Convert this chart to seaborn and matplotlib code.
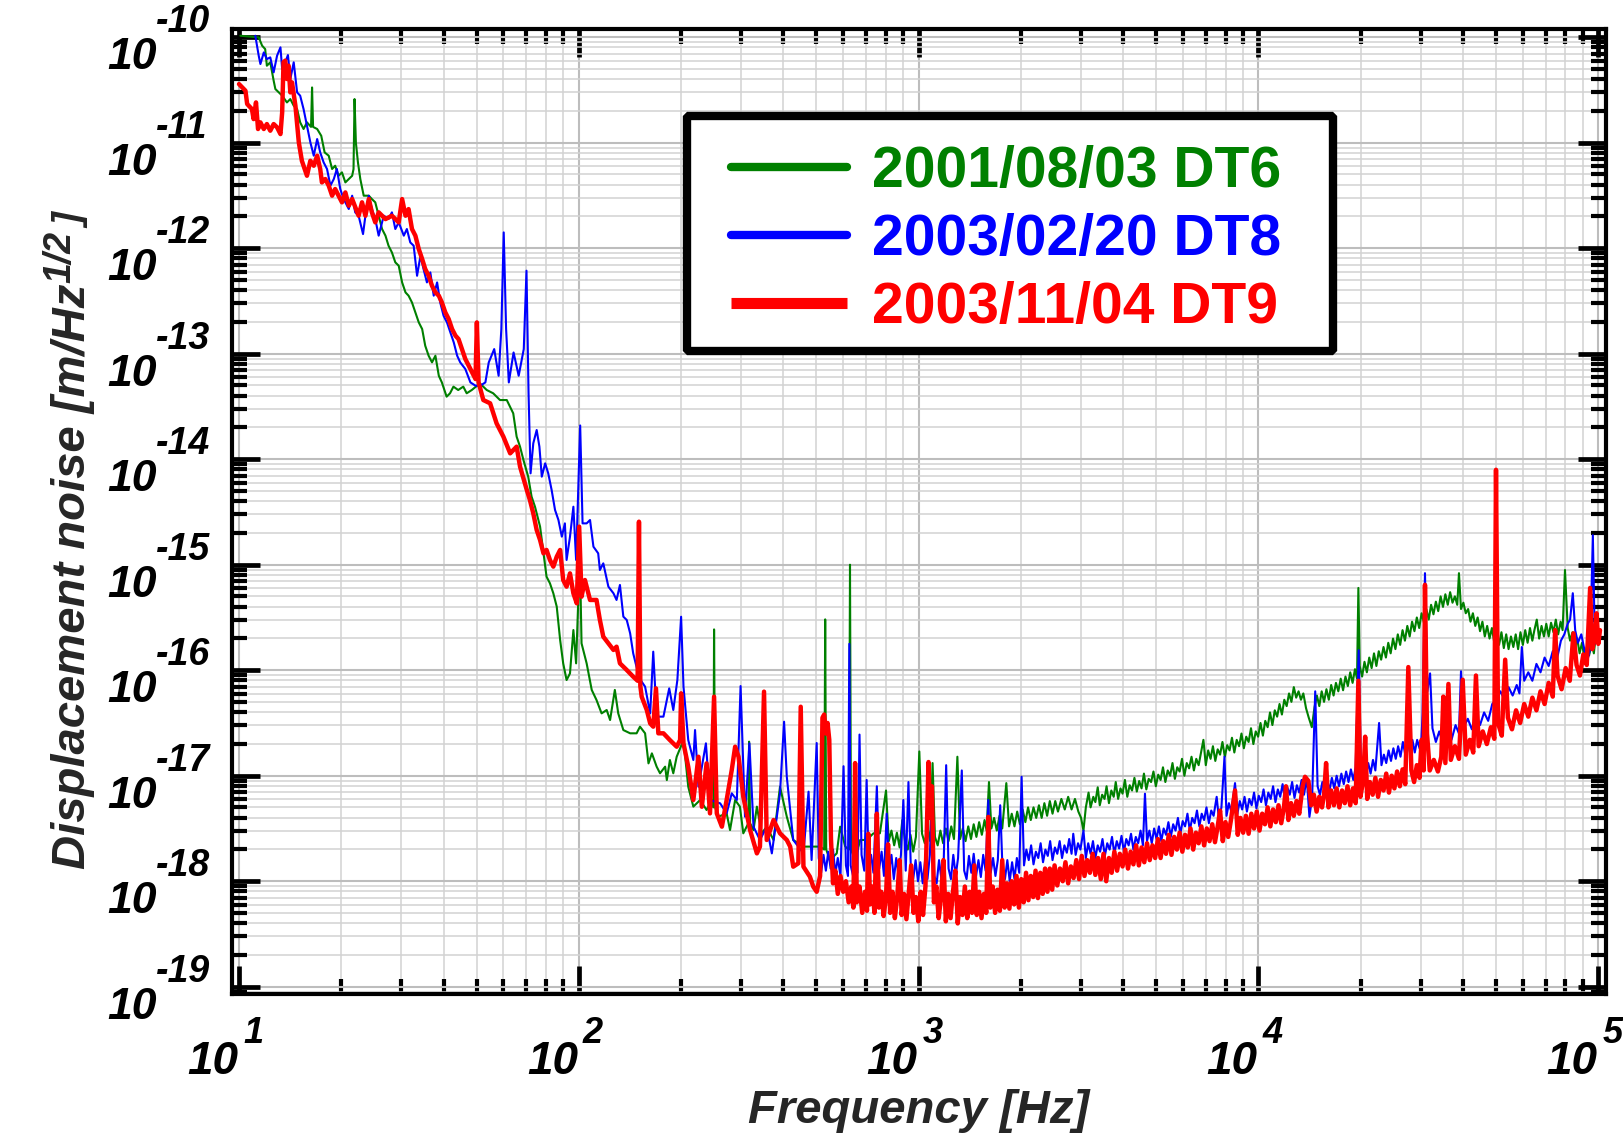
import numpy as np
import pandas as pd
import seaborn as sns
import matplotlib
matplotlib.use("Agg")
import matplotlib.pyplot as plt
from matplotlib.transforms import offset_copy, blended_transform_factory
from matplotlib.lines import Line2D
from matplotlib.patches import Rectangle
from matplotlib.ticker import LogLocator, NullFormatter

# ---------------- data: (log10 frequency [Hz], log10 noise [m/Hz^1/2]) ----------------
dt6_points = [
    (1.004, -9.986), (1.058, -10.001), (1.068, -10.080), (1.077, -10.112), (1.082, -10.270), (1.092, -10.238),
    (1.102, -10.412), (1.107, -10.491), (1.117, -10.523), (1.127, -10.554), (1.141, -10.618), (1.151, -10.586),
    (1.161, -10.649), (1.171, -10.681), (1.180, -10.807), (1.190, -10.870), (1.200, -10.807), (1.212, -10.850),
    (1.215, -10.476), (1.218, -10.850), (1.230, -10.870), (1.242, -10.934), (1.252, -11.092), (1.264, -11.123),
    (1.274, -11.249), (1.283, -11.218), (1.293, -11.313), (1.303, -11.281), (1.313, -11.376), (1.323, -11.344),
    (1.333, -11.313), (1.337, -11.250), (1.340, -10.586), (1.344, -11.000), (1.350, -11.186), (1.357, -11.344),
    (1.367, -11.502), (1.382, -11.502), (1.391, -11.534), (1.401, -11.565), (1.411, -11.692), (1.421, -11.818),
    (1.431, -11.881), (1.440, -11.976), (1.450, -12.040), (1.460, -12.134), (1.470, -12.166), (1.480, -12.324),
    (1.490, -12.419), (1.499, -12.450), (1.509, -12.514), (1.519, -12.608), (1.529, -12.703), (1.539, -12.766),
    (1.548, -12.924), (1.558, -13.019), (1.568, -13.082), (1.578, -13.019), (1.588, -13.209), (1.597, -13.272),
    (1.611, -13.407), (1.621, -13.375), (1.631, -13.312), (1.645, -13.344), (1.660, -13.312), (1.670, -13.375),
    (1.685, -13.344), (1.709, -13.281), (1.729, -13.344), (1.748, -13.375), (1.768, -13.439), (1.788, -13.439),
    (1.807, -13.565), (1.817, -13.786), (1.827, -13.881), (1.837, -14.007), (1.851, -14.165), (1.861, -14.355),
    (1.871, -14.450), (1.886, -14.639), (1.896, -14.892), (1.905, -15.113), (1.915, -15.176), (1.925, -15.271),
    (1.935, -15.397), (1.945, -15.713), (1.954, -15.935), (1.964, -16.093), (1.974, -16.030), (1.984, -15.619),
    (1.992, -15.935), (2.003, -14.900), (2.008, -15.745), (2.023, -15.935), (2.038, -16.187), (2.052, -16.282),
    (2.067, -16.409), (2.082, -16.377), (2.092, -16.472), (2.106, -16.187), (2.116, -16.409), (2.131, -16.567),
    (2.151, -16.598), (2.170, -16.598), (2.180, -16.535), (2.195, -16.598), (2.205, -16.883), (2.215, -16.788),
    (2.229, -16.914), (2.239, -16.977), (2.254, -16.914), (2.259, -17.041), (2.268, -16.851), (2.278, -16.977),
    (2.288, -16.820), (2.308, -16.662), (2.322, -17.104), (2.337, -17.293), (2.357, -17.230), (2.376, -17.325),
    (2.391, -17.230), (2.396, -17.300), (2.398, -15.613), (2.401, -17.300), (2.411, -17.388), (2.435, -17.357),
    (2.445, -17.515), (2.460, -17.230), (2.474, -17.293), (2.484, -17.546), (2.499, -17.450), (2.501, -16.677),
    (2.504, -17.450), (2.514, -17.515), (2.524, -17.293), (2.538, -17.546), (2.553, -17.483), (2.573, -17.609),
    (2.592, -17.104), (2.612, -17.388), (2.631, -17.609), (2.661, -17.672), (2.690, -17.672), (2.710, -17.672),
    (2.722, -17.700), (2.725, -15.518), (2.728, -17.700), (2.739, -17.799), (2.759, -17.736), (2.769, -17.483),
    (2.784, -17.672), (2.795, -17.700), (2.798, -15.000), (2.801, -17.700), (2.813, -17.799), (2.828, -17.609),
    (2.847, -17.609), (2.867, -17.546), (2.886, -17.546), (2.904, -17.140), (2.912, -17.620), (2.920, -17.520),
    (2.928, -17.660), (2.936, -17.540), (2.944, -17.680), (2.952, -17.420), (2.960, -17.620), (2.968, -17.700),
    (2.976, -17.560), (2.984, -17.720), (2.992, -17.580), (3.002, -16.770), (3.010, -17.550), (3.018, -17.640),
    (3.026, -17.500), (3.034, -17.620), (3.041, -16.880), (3.048, -17.580), (3.056, -17.660), (3.064, -17.520),
    (3.072, -17.640), (3.080, -17.500), (3.088, -17.620), (3.096, -17.480), (3.104, -17.600), (3.114, -16.820),
    (3.122, -17.600), (3.130, -17.500), (3.138, -17.620), (3.146, -17.480), (3.154, -17.600), (3.162, -17.460),
    (3.170, -17.580), (3.178, -17.440), (3.186, -17.560), (3.194, -17.420), (3.200, -17.520), (3.207, -17.060),
    (3.214, -17.500), (3.222, -17.400), (3.230, -17.520), (3.238, -17.380), (3.246, -17.500), (3.258, -17.070),
    (3.266, -17.480), (3.274, -17.360), (3.282, -17.480), (3.290, -17.340), (3.298, -17.460), (3.306, -17.320),
    (3.314, -17.440), (3.322, -17.300), (3.330, -17.420), (3.338, -17.300), (3.346, -17.400), (3.354, -17.280),
    (3.362, -17.400), (3.370, -17.260), (3.378, -17.380), (3.386, -17.240), (3.394, -17.360), (3.402, -17.240),
    (3.410, -17.340), (3.420, -17.220), (3.430, -17.320), (3.440, -17.200), (3.450, -17.320), (3.460, -17.220),
    (3.470, -17.340), (3.478, -17.400), (3.485, -17.520), (3.492, -17.300),
    (3.500, -17.16), (3.506, -17.30), (3.514, -17.20), (3.520, -17.25), (3.527, -17.11), (3.533, -17.28),
    (3.540, -17.18), (3.547, -17.22), (3.553, -17.10), (3.560, -17.26), (3.567, -17.14), (3.574, -17.20),
    (3.580, -17.06), (3.587, -17.22), (3.594, -17.12), (3.600, -17.17), (3.607, -17.04), (3.614, -17.20),
    (3.621, -17.09), (3.628, -17.14), (3.635, -17.02), (3.642, -17.15), (3.649, -17.05), (3.656, -17.12),
    (3.663, -16.98), (3.670, -17.13), (3.677, -17.03), (3.684, -17.06), (3.691, -16.96), (3.698, -17.10),
    (3.705, -16.99), (3.712, -17.04), (3.719, -16.92), (3.726, -17.06), (3.733, -16.95), (3.740, -17.00),
    (3.747, -16.88), (3.754, -17.03), (3.761, -16.92), (3.768, -16.96), (3.775, -16.84), (3.782, -17.00),
    (3.789, -16.88), (3.796, -16.93), (3.803, -16.82), (3.810, -16.95), (3.817, -16.84), (3.824, -16.90),
    (3.831, -16.78), (3.838, -16.66), (3.845, -16.90), (3.852, -16.76), (3.859, -16.84), (3.866, -16.72),
    (3.873, -16.86), (3.880, -16.75), (3.887, -16.80), (3.894, -16.68), (3.901, -16.82), (3.908, -16.71),
    (3.915, -16.76), (3.922, -16.64), (3.929, -16.78), (3.936, -16.66), (3.943, -16.72), (3.950, -16.60),
    (3.957, -16.74), (3.964, -16.63), (3.971, -16.68), (3.978, -16.55), (3.985, -16.70), (3.992, -16.58),
    (3.999, -16.63), (4.006, -16.50), (4.013, -16.62), (4.020, -16.48), (4.027, -16.54), (4.034, -16.40),
    (4.041, -16.52), (4.048, -16.38), (4.055, -16.44), (4.062, -16.32), (4.069, -16.42), (4.076, -16.28),
    (4.083, -16.34), (4.090, -16.22), (4.097, -16.30), (4.104, -16.16), (4.111, -16.26), (4.118, -16.20),
    (4.125, -16.28), (4.132, -16.22), (4.140, -16.36), (4.148, -16.45), (4.157, -16.54), (4.165, -16.35),
    (4.172, -16.24), (4.179, -16.34), (4.186, -16.20), (4.193, -16.30), (4.200, -16.18), (4.207, -16.28),
    (4.214, -16.14), (4.221, -16.24), (4.228, -16.12), (4.235, -16.20), (4.242, -16.08), (4.249, -16.19),
    (4.256, -16.06), (4.263, -16.15), (4.270, -16.02), (4.277, -16.12), (4.284, -15.99), (4.290, -16.08),
    (4.294, -15.22), (4.298, -15.96), (4.305, -16.06), (4.312, -15.92), (4.319, -16.02), (4.326, -15.88),
    (4.333, -15.98), (4.340, -15.84), (4.347, -15.96), (4.354, -15.82), (4.361, -15.90), (4.368, -15.78),
    (4.375, -15.88), (4.382, -15.74), (4.389, -15.84), (4.396, -15.70), (4.403, -15.80), (4.410, -15.66),
    (4.417, -15.76), (4.424, -15.62), (4.431, -15.72), (4.438, -15.58), (4.445, -15.68), (4.452, -15.54),
    (4.459, -15.63), (4.466, -15.50), (4.473, -15.60), (4.480, -15.46), (4.487, -15.55), (4.494, -15.42),
    (4.501, -15.52), (4.508, -15.38), (4.515, -15.47), (4.522, -15.35), (4.529, -15.44), (4.536, -15.30),
    (4.543, -15.40), (4.550, -15.28), (4.557, -15.38), (4.564, -15.26), (4.571, -15.36), (4.578, -15.30),
    (4.585, -15.38), (4.590, -15.08), (4.596, -15.42), (4.603, -15.36), (4.610, -15.46), (4.617, -15.42),
    (4.624, -15.54), (4.631, -15.46), (4.638, -15.58), (4.645, -15.50), (4.652, -15.63), (4.659, -15.54),
    (4.666, -15.68), (4.673, -15.58), (4.680, -15.70), (4.687, -15.60), (4.694, -15.74), (4.701, -15.62),
    (4.708, -15.76), (4.715, -15.64), (4.722, -15.79), (4.729, -15.66), (4.736, -15.80), (4.743, -15.68),
    (4.750, -15.78), (4.757, -15.66), (4.764, -15.80), (4.771, -15.64), (4.778, -15.76), (4.785, -15.62),
    (4.792, -15.74), (4.799, -15.60), (4.806, -15.72), (4.812, -15.62), (4.819, -15.52), (4.826, -15.70),
    (4.833, -15.58), (4.840, -15.68), (4.847, -15.56), (4.854, -15.68), (4.861, -15.55), (4.868, -15.64),
    (4.875, -15.52), (4.882, -15.66), (4.889, -15.54), (4.895, -15.62), (4.902, -15.05), (4.910, -15.60),
    (4.917, -15.72), (4.924, -15.64), (4.931, -15.80), (4.938, -15.70), (4.945, -15.84), (4.952, -15.74),
    (4.959, -15.88), (4.966, -15.78), (4.973, -15.86), (4.980, -15.74), (4.987, -15.84), (4.993, -15.66),
    (5.000, -15.72), (5.005, -15.62)]

dt8_points = [
    (1.048, -9.986), (1.058, -10.175), (1.063, -10.254), (1.073, -10.144), (1.082, -10.207), (1.092, -10.191),
    (1.102, -10.333), (1.112, -10.175), (1.122, -10.096), (1.127, -10.302), (1.136, -10.238), (1.144, -10.169),
    (1.151, -10.396), (1.161, -10.238), (1.171, -10.523), (1.180, -10.554), (1.190, -10.681), (1.200, -10.839),
    (1.210, -10.997), (1.220, -11.123), (1.230, -10.965), (1.239, -11.092), (1.249, -11.186), (1.259, -11.249),
    (1.269, -11.407), (1.279, -11.344), (1.288, -11.249), (1.298, -11.439), (1.308, -11.534), (1.323, -11.628),
    (1.333, -11.502), (1.342, -11.660), (1.352, -11.692), (1.365, -11.866), (1.372, -11.692), (1.382, -11.502),
    (1.391, -11.628), (1.401, -11.723), (1.411, -11.881), (1.426, -11.692), (1.440, -11.723), (1.450, -11.660),
    (1.460, -11.818), (1.470, -11.755), (1.485, -11.881), (1.494, -11.818), (1.504, -11.945), (1.514, -11.976),
    (1.524, -12.261), (1.534, -12.071), (1.543, -12.197), (1.553, -12.324), (1.563, -12.229), (1.573, -12.450),
    (1.583, -12.324), (1.592, -12.513), (1.602, -12.640), (1.612, -12.703), (1.622, -12.798), (1.632, -12.893),
    (1.642, -13.019), (1.651, -13.082), (1.666, -13.145), (1.681, -13.272), (1.696, -13.303), (1.710, -13.303),
    (1.725, -13.272), (1.735, -13.082), (1.751, -12.956), (1.764, -13.209), (1.772, -12.766), (1.779, -11.850),
    (1.786, -12.766), (1.794, -13.272), (1.808, -12.988), (1.823, -13.209), (1.838, -12.956), (1.846, -12.213),
    (1.852, -13.367), (1.858, -14.134), (1.866, -13.849), (1.876, -13.723), (1.884, -13.881), (1.891, -14.165),
    (1.901, -14.039), (1.910, -14.134), (1.920, -14.292), (1.930, -14.481), (1.940, -14.576), (1.950, -14.734),
    (1.959, -14.608), (1.964, -14.955), (1.974, -14.734), (1.984, -14.450), (1.992, -14.955), (2.004, -13.680),
    (2.011, -14.608), (2.023, -14.608), (2.033, -14.576), (2.043, -14.829), (2.057, -14.892), (2.062, -15.050),
    (2.072, -14.987), (2.087, -15.208), (2.102, -15.271), (2.111, -15.334), (2.121, -15.192), (2.131, -15.492),
    (2.141, -15.524), (2.151, -15.650), (2.160, -15.840), (2.178, -16.075), (2.195, -16.156), (2.210, -16.409),
    (2.219, -15.824), (2.229, -16.440), (2.249, -16.440), (2.266, -16.172), (2.278, -16.377), (2.290, -16.093),
    (2.301, -15.493), (2.308, -16.156), (2.322, -16.662), (2.337, -16.851), (2.342, -16.567), (2.352, -17.104),
    (2.374, -16.693), (2.386, -17.230), (2.416, -17.262), (2.435, -17.357), (2.450, -17.167), (2.465, -17.230),
    (2.476, -16.150), (2.489, -17.388), (2.502, -16.693), (2.514, -17.483), (2.533, -17.609), (2.553, -17.483),
    (2.568, -17.736), (2.592, -17.167), (2.604, -16.488), (2.612, -17.009), (2.631, -17.609), (2.661, -17.736),
    (2.676, -17.151), (2.685, -17.799), (2.700, -16.690), (2.706, -17.780), (2.713, -17.920), (2.720, -17.750),
    (2.727, -17.900), (2.734, -17.720), (2.741, -17.880), (2.748, -17.700), (2.755, -17.930), (2.762, -17.780),
    (2.770, -17.950), (2.779, -16.910), (2.786, -17.850), (2.792, -17.950), (2.796, -15.750), (2.800, -17.850),
    (2.807, -17.950), (2.814, -17.780), (2.820, -17.920), (2.826, -16.610), (2.832, -17.750), (2.840, -17.900),
    (2.847, -17.040), (2.853, -17.880), (2.860, -17.750), (2.867, -17.920), (2.877, -17.100), (2.884, -17.880),
    (2.891, -17.720), (2.898, -17.950), (2.906, -17.360), (2.913, -17.900), (2.920, -17.750), (2.927, -17.980),
    (2.934, -17.780), (2.941, -17.950), (2.948, -17.750), (2.955, -17.230), (2.962, -17.900), (2.970, -17.060),
    (2.977, -17.880), (2.984, -17.980), (2.991, -17.800), (2.998, -18.000), (3.005, -17.820), (3.012, -18.020),
    (3.019, -17.800), (3.026, -17.980), (3.033, -17.750), (3.039, -17.230), (3.046, -17.950), (3.053, -18.020),
    (3.060, -17.800), (3.067, -17.980), (3.074, -17.780), (3.081, -16.900), (3.088, -17.880), (3.095, -17.980),
    (3.102, -17.750), (3.109, -17.950), (3.116, -17.780), (3.127, -16.950), (3.134, -17.900), (3.141, -17.980),
    (3.148, -17.760), (3.155, -17.920), (3.162, -17.740), (3.169, -17.950), (3.176, -17.800), (3.183, -17.960),
    (3.190, -17.750), (3.197, -17.900), (3.205, -17.230), (3.212, -17.920), (3.219, -17.780), (3.226, -17.950),
    (3.233, -17.800), (3.240, -17.280), (3.247, -17.900), (3.254, -17.980), (3.261, -17.800), (3.268, -18.000),
    (3.275, -17.820), (3.282, -17.980), (3.289, -17.780), (3.296, -17.920), (3.303, -17.010),
    (3.310, -17.85), (3.317, -17.70), (3.324, -17.80), (3.331, -17.66), (3.338, -17.84), (3.345, -17.72),
    (3.352, -17.78), (3.359, -17.64), (3.366, -17.82), (3.373, -17.70), (3.380, -17.76), (3.387, -17.62),
    (3.394, -17.80), (3.401, -17.68), (3.408, -17.74), (3.415, -17.62), (3.422, -17.78), (3.429, -17.66),
    (3.436, -17.73), (3.443, -17.60), (3.450, -17.74), (3.455, -17.55), (3.462, -17.75), (3.469, -17.64),
    (3.476, -17.70), (3.485, -17.52), (3.492, -17.78), (3.499, -17.64), (3.506, -17.74), (3.513, -17.62),
    (3.520, -17.78), (3.527, -17.66), (3.534, -17.72), (3.541, -17.60), (3.548, -17.76), (3.555, -17.64),
    (3.562, -17.70), (3.569, -17.58), (3.576, -17.74), (3.583, -17.62), (3.590, -17.69), (3.597, -17.57),
    (3.604, -17.72), (3.611, -17.60), (3.618, -17.66), (3.625, -17.55), (3.632, -17.70), (3.639, -17.58),
    (3.646, -17.64), (3.653, -17.52), (3.660, -17.66), (3.666, -17.17), (3.672, -17.62), (3.679, -17.52),
    (3.686, -17.64), (3.693, -17.50), (3.700, -17.60), (3.707, -17.48), (3.714, -17.62), (3.721, -17.50),
    (3.728, -17.56), (3.735, -17.44), (3.742, -17.58), (3.749, -17.46), (3.756, -17.52), (3.763, -17.40),
    (3.770, -17.55), (3.777, -17.43), (3.784, -17.48), (3.791, -17.36), (3.798, -17.52), (3.805, -17.40),
    (3.812, -17.45), (3.819, -17.33), (3.826, -17.48), (3.833, -17.36), (3.840, -17.42), (3.847, -17.30),
    (3.854, -17.45), (3.861, -17.33), (3.868, -17.38), (3.877, -17.20), (3.884, -17.42), (3.891, -17.30),
    (3.900, -16.82), (3.906, -17.38), (3.913, -17.26), (3.920, -17.34), (3.931, -17.07), (3.938, -17.36),
    (3.945, -17.24), (3.952, -17.32), (3.959, -17.20), (3.966, -17.34), (3.973, -17.22), (3.980, -17.28),
    (3.987, -17.16), (3.994, -17.31), (4.001, -17.19), (4.008, -17.25), (4.015, -17.13), (4.022, -17.28),
    (4.029, -17.16), (4.036, -17.22), (4.043, -17.10), (4.050, -17.25), (4.057, -17.13), (4.064, -17.20),
    (4.071, -17.08), (4.078, -17.23), (4.085, -17.11), (4.092, -17.18), (4.099, -17.06), (4.106, -17.21),
    (4.113, -17.09), (4.120, -17.16), (4.127, -17.04), (4.134, -17.18), (4.142, -17.02), (4.150, -17.39),
    (4.158, -17.20), (4.167, -16.20), (4.174, -17.10), (4.181, -17.18), (4.188, -17.06), (4.195, -17.16),
    (4.202, -17.04), (4.209, -17.14), (4.216, -17.02), (4.223, -17.12), (4.230, -17.00), (4.237, -17.10),
    (4.244, -16.98), (4.251, -17.08), (4.258, -16.96), (4.265, -17.06), (4.272, -16.94), (4.279, -17.04),
    (4.286, -16.92), (4.295, -15.81), (4.302, -17.03), (4.309, -16.92), (4.316, -17.00), (4.323, -16.88),
    (4.330, -16.98), (4.337, -16.85), (4.344, -16.95), (4.355, -16.50), (4.362, -16.90), (4.369, -16.80),
    (4.376, -16.88), (4.383, -16.76), (4.390, -16.86), (4.397, -16.74), (4.404, -16.84), (4.411, -16.72),
    (4.418, -16.82), (4.425, -16.68), (4.432, -16.80), (4.439, -16.68), (4.446, -16.78), (4.453, -16.66),
    (4.460, -16.78), (4.467, -16.66), (4.474, -16.74), (4.478, -16.75), (4.483, -16.41),
    (4.490, -15.080), (4.497, -16.200), (4.505, -16.030), (4.512, -16.550), (4.522, -16.680),
    (4.532, -16.580), (4.544, -16.700), (4.556, -16.560), (4.568, -16.660), (4.580, -16.520), (4.590, -16.600),
    (4.596, -16.010), (4.604, -16.540), (4.616, -16.460), (4.628, -16.560), (4.640, -16.420), (4.652, -16.520),
    (4.664, -16.400), (4.676, -16.480), (4.688, -16.320), (4.700, -16.280), (4.712, -16.200), (4.724, -16.280),
    (4.736, -16.160), (4.748, -16.240), (4.760, -16.140), (4.768, -16.220), (4.775, -15.780), (4.782, -16.100),
    (4.794, -16.020), (4.806, -16.100), (4.818, -15.940), (4.830, -16.020), (4.842, -15.880), (4.854, -15.960),
    (4.866, -15.820), (4.878, -15.900), (4.890, -15.720), (4.900, -15.660), (4.910, -15.560), (4.917, -15.520),
    (4.925, -15.270), (4.932, -15.620), (4.940, -15.740), (4.950, -15.660), (4.960, -15.820), (4.970, -15.880),
    (4.976, -15.800), (4.984, -14.720), (4.990, -15.750), (4.998, -15.600), (5.005, -15.650)]

dt9_points = [
    (1.000, -10.444), (1.019, -10.507), (1.024, -10.633), (1.038, -10.681), (1.043, -10.776), (1.050, -10.618),
    (1.056, -10.870), (1.063, -10.807), (1.073, -10.870), (1.082, -10.823), (1.092, -10.886), (1.102, -10.823),
    (1.112, -10.854), (1.122, -10.918), (1.127, -10.712), (1.131, -10.238), (1.136, -10.222), (1.141, -10.396),
    (1.146, -10.270), (1.151, -10.523), (1.156, -10.428), (1.166, -10.649), (1.176, -10.997), (1.185, -11.171),
    (1.200, -11.313), (1.210, -11.171), (1.220, -11.218), (1.230, -11.123), (1.239, -11.249), (1.244, -11.376),
    (1.254, -11.344), (1.264, -11.407), (1.274, -11.502), (1.283, -11.439), (1.293, -11.502), (1.303, -11.565),
    (1.313, -11.471), (1.323, -11.597), (1.333, -11.534), (1.352, -11.692), (1.362, -11.565), (1.372, -11.692),
    (1.382, -11.534), (1.391, -11.660), (1.401, -11.755), (1.411, -11.660), (1.431, -11.724), (1.450, -11.692),
    (1.470, -11.755), (1.480, -11.534), (1.490, -11.692), (1.499, -11.629), (1.509, -11.818), (1.519, -11.881),
    (1.529, -12.008), (1.539, -12.103), (1.548, -12.197), (1.558, -12.261), (1.568, -12.356), (1.578, -12.419),
    (1.588, -12.450), (1.597, -12.514), (1.607, -12.608), (1.617, -12.671), (1.627, -12.766), (1.637, -12.829),
    (1.646, -12.861), (1.656, -12.956), (1.666, -13.050), (1.676, -13.114), (1.686, -13.177), (1.696, -13.240),
    (1.700, -12.703), (1.705, -13.272), (1.719, -13.439), (1.739, -13.470), (1.758, -13.660), (1.778, -13.786),
    (1.798, -13.944), (1.817, -13.881), (1.827, -14.070), (1.847, -14.292), (1.856, -14.386), (1.866, -14.513),
    (1.876, -14.671), (1.886, -14.766), (1.896, -14.892), (1.905, -14.860), (1.915, -14.955), (1.925, -15.018),
    (1.935, -14.924), (1.945, -14.860), (1.954, -15.145), (1.964, -15.208), (1.974, -15.082), (1.984, -15.271),
    (1.994, -15.366), (2.001, -14.639), (2.008, -15.303), (2.018, -15.145), (2.033, -15.334), (2.052, -15.334),
    (2.062, -15.524), (2.072, -15.682), (2.087, -15.745), (2.102, -15.808), (2.111, -15.777), (2.121, -15.935),
    (2.141, -15.998), (2.160, -16.061), (2.173, -16.100), (2.177, -14.592), (2.181, -16.150), (2.185, -16.251),
    (2.200, -16.377), (2.210, -16.504), (2.219, -16.535), (2.227, -16.172), (2.234, -16.598), (2.249, -16.598),
    (2.268, -16.662), (2.288, -16.725), (2.298, -16.662), (2.301, -16.219), (2.308, -16.693), (2.322, -16.915),
    (2.337, -17.230), (2.352, -16.820), (2.362, -17.294), (2.376, -16.883), (2.386, -17.357), (2.398, -16.251),
    (2.406, -17.357), (2.421, -17.483), (2.435, -17.230), (2.450, -16.946), (2.460, -16.725), (2.470, -16.820),
    (2.484, -17.199), (2.504, -17.515), (2.524, -17.736), (2.533, -17.672), (2.545, -16.203), (2.553, -17.609),
    (2.573, -17.420), (2.592, -17.546), (2.612, -17.609), (2.622, -17.672), (2.631, -17.862), (2.646, -17.830),
    (2.653, -16.346), (2.661, -17.862), (2.680, -17.957), (2.690, -18.052), (2.700, -18.100), (2.710, -17.950),
    (2.717, -16.450), (2.722, -16.420), (2.727, -16.600), (2.732, -16.500), (2.737, -16.660), (2.742, -17.600),
    (2.748, -18.020), (2.755, -17.900), (2.762, -18.120), (2.770, -17.950), (2.778, -18.100), (2.786, -18.000),
    (2.794, -18.200), (2.802, -18.050), (2.808, -18.250), (2.813, -16.880), (2.818, -18.200), (2.826, -18.050),
    (2.834, -18.300), (2.842, -18.100), (2.848, -18.280), (2.852, -17.550), (2.857, -18.220), (2.864, -18.050),
    (2.870, -18.300), (2.877, -17.360), (2.883, -18.250), (2.890, -18.100), (2.897, -18.330), (2.904, -18.150),
    (2.910, -17.650), (2.916, -18.300), (2.923, -18.100), (2.930, -18.350), (2.937, -18.150), (2.944, -17.800),
    (2.950, -18.320), (2.957, -18.120), (2.964, -18.360), (2.971, -18.100), (2.978, -17.850), (2.985, -18.300),
    (2.992, -18.150), (2.999, -18.380), (3.006, -18.100), (3.013, -18.320), (3.020, -18.050), (3.029, -16.870),
    (3.034, -17.400), (3.039, -17.100), (3.045, -18.200), (3.052, -18.050), (3.059, -18.350), (3.066, -18.150),
    (3.073, -17.800), (3.080, -18.380), (3.087, -18.120), (3.094, -18.350), (3.101, -18.100), (3.108, -17.900),
    (3.115, -18.400), (3.122, -18.150), (3.129, -18.320), (3.136, -18.050), (3.143, -18.350), (3.150, -18.100),
    (3.157, -18.300), (3.164, -17.850), (3.171, -18.320), (3.178, -18.100), (3.185, -18.350), (3.192, -18.120),
    (3.199, -18.300), (3.205, -17.390), (3.211, -18.250), (3.218, -18.050), (3.225, -18.300), (3.232, -18.080),
    (3.239, -18.280), (3.246, -17.800), (3.253, -18.250), (3.260, -18.020), (3.267, -18.260), (3.274, -18.000),
    (3.281, -18.220), (3.288, -17.950), (3.295, -18.250), (3.302, -17.980), (3.309, -18.200), (3.316, -17.920),
    (3.323, -18.180), (3.330, -17.950), (3.337, -18.150), (3.344, -17.900), (3.351, -18.160), (3.358, -17.920),
    (3.365, -18.120), (3.372, -17.880), (3.379, -18.100), (3.386, -17.880), (3.393, -18.080),
    (3.400, -17.85), (3.408, -18.04), (3.416, -17.88), (3.424, -18.00), (3.432, -17.82), (3.440, -18.02),
    (3.448, -17.86), (3.456, -17.97), (3.464, -17.80), (3.472, -17.98), (3.480, -17.76), (3.488, -17.95),
    (3.496, -17.80), (3.504, -17.92), (3.512, -17.74), (3.520, -17.94), (3.528, -17.78), (3.536, -17.98),
    (3.544, -17.74), (3.552, -18.00), (3.560, -17.78), (3.568, -17.92), (3.576, -17.72), (3.584, -17.90),
    (3.592, -17.74), (3.600, -17.86), (3.608, -17.70), (3.616, -17.88), (3.624, -17.72), (3.632, -17.84),
    (3.640, -17.66), (3.648, -17.85), (3.656, -17.68), (3.664, -17.82), (3.672, -17.64), (3.680, -17.80),
    (3.688, -17.66), (3.696, -17.78), (3.704, -17.60), (3.712, -17.78), (3.720, -17.62), (3.728, -17.74),
    (3.736, -17.56), (3.744, -17.75), (3.752, -17.58), (3.760, -17.70), (3.768, -17.54), (3.776, -17.72),
    (3.784, -17.56), (3.792, -17.68), (3.800, -17.50), (3.808, -17.70), (3.816, -17.54), (3.824, -17.64),
    (3.832, -17.48), (3.840, -17.66), (3.848, -17.50), (3.856, -17.62), (3.864, -17.46), (3.872, -17.63),
    (3.880, -17.48), (3.887, -17.33), (3.895, -17.62), (3.903, -17.44), (3.911, -17.58), (3.919, -17.42),
    (3.931, -17.14), (3.939, -17.56), (3.947, -17.40), (3.955, -17.54), (3.963, -17.38), (3.971, -17.55),
    (3.979, -17.36), (3.987, -17.50), (3.995, -17.34), (4.003, -17.52), (4.011, -17.36), (4.019, -17.46),
    (4.027, -17.30), (4.035, -17.48), (4.043, -17.32), (4.051, -17.44), (4.059, -17.28), (4.067, -17.45),
    (4.075, -17.30), (4.081, -17.10), (4.088, -17.42), (4.096, -17.26), (4.104, -17.38), (4.112, -17.24),
    (4.120, -17.36), (4.130, -17.10), (4.137, -17.01), (4.147, -17.05), (4.155, -17.28), (4.163, -17.18),
    (4.171, -17.34), (4.179, -17.20), (4.187, -17.30), (4.193, -17.18), (4.199, -16.88), (4.206, -17.30),
    (4.214, -17.14), (4.222, -17.28), (4.230, -17.12), (4.238, -17.30), (4.246, -17.14), (4.254, -17.26),
    (4.262, -17.10), (4.270, -17.28), (4.278, -17.12), (4.286, -17.26), (4.294, -16.10), (4.300, -17.20),
    (4.308, -17.05), (4.314, -16.63), (4.320, -17.22), (4.328, -17.06), (4.336, -17.18), (4.344, -17.02),
    (4.352, -17.20), (4.360, -17.04), (4.368, -17.14), (4.376, -16.98), (4.384, -17.16), (4.392, -17.00),
    (4.400, -17.12), (4.408, -16.96), (4.416, -17.10), (4.424, -16.94), (4.432, -17.08), (4.441, -15.97),
    (4.450, -16.95), (4.458, -17.06), (4.466, -16.90), (4.474, -17.02), (4.480, -16.66),
    (4.486, -16.950), (4.490, -15.190),
    (4.496, -16.600), (4.504, -16.950), (4.516, -16.850), (4.528, -16.960), (4.538, -16.820), (4.544, -16.250),
    (4.550, -16.880), (4.559, -16.130), (4.566, -16.850), (4.578, -16.720), (4.590, -16.840), (4.601, -16.090),
    (4.610, -16.800), (4.622, -16.660), (4.632, -16.780), (4.640, -16.050), (4.648, -16.720), (4.660, -16.580),
    (4.672, -16.700), (4.684, -16.540), (4.694, -16.650), (4.699, -14.100), (4.705, -16.500), (4.716, -16.620),
    (4.726, -15.900), (4.734, -16.450), (4.746, -16.560), (4.758, -16.380), (4.770, -16.500), (4.782, -16.320),
    (4.794, -16.440), (4.806, -16.260), (4.818, -16.380), (4.830, -16.200), (4.842, -16.320), (4.854, -16.120),
    (4.866, -16.250), (4.873, -15.620), (4.880, -16.050), (4.892, -16.180), (4.904, -15.980), (4.916, -16.100),
    (4.927, -15.650), (4.936, -15.950), (4.946, -16.050), (4.956, -15.850), (4.966, -15.950), (4.976, -15.220),
    (4.982, -15.800), (4.990, -15.700), (4.995, -15.460), (5.000, -15.750), (5.005, -15.620)]

series_labels = ["2001/08/03 DT6", "2003/02/20 DT8", "2003/11/04 DT9"]
series_colors = ["#008000", "#0000ff", "#ff0000"]
x_tick_exponents = [1, 2, 3, 4, 5]
y_tick_exponents = [-19, -18, -17, -16, -15, -14, -13, -12, -11, -10]

# ---------------- build table ----------------
frames = []
for lab, pts in zip(series_labels, [dt6_points, dt8_points, dt9_points]):
    arr = np.array(pts)
    frames.append(pd.DataFrame({"freq": np.power(10.0, arr[:, 0]), "noise": np.power(10.0, arr[:, 1]),
                                "series": lab}))
df = pd.concat(frames, ignore_index=True)

sns.set_theme(style="white")
plt.rcParams["font.family"] = ["Liberation Sans", "DejaVu Sans"]

W, H = 1623, 1139
fig = plt.figure(figsize=(W / 100, H / 100), dpi=100)
fig.patch.set_facecolor("white")
AX_L, AX_R, AX_T, AX_B = 232, 1606, 29, 994
ax = fig.add_axes([AX_L / W, 1 - AX_B / H, (AX_R - AX_L) / W, (AX_B - AX_T) / H])
ax.set_facecolor("white")

line_widths = [1.5, 1.5, 3.2]
for lab, col, lw in zip(series_labels, series_colors, line_widths):
    sns.lineplot(data=df[df["series"] == lab], x="freq", y="noise", color=col, linewidth=lw,
                 sort=False, estimator=None, legend=False, ax=ax, zorder=3)

ax.set_xscale("log")
ax.set_yscale("log")
ax.set_xlim(10 ** 0.9794, 10 ** 5.0227)
ax.set_ylim(10 ** -19.069, 10 ** -9.922)
ax.set_xlabel("")
ax.set_ylabel("")

ax.xaxis.set_major_locator(LogLocator(base=10, numticks=20))
ax.xaxis.set_minor_locator(LogLocator(base=10, subs=np.arange(2, 10), numticks=200))
ax.yaxis.set_major_locator(LogLocator(base=10, numticks=30))
ax.yaxis.set_minor_locator(LogLocator(base=10, subs=np.arange(2, 10), numticks=300))
for a in (ax.xaxis, ax.yaxis):
    a.set_major_formatter(NullFormatter())
    a.set_minor_formatter(NullFormatter())

ax.tick_params(which="both", direction="in", top=True, right=True, bottom=True, left=True,
               labelbottom=False, labelleft=False, color="black")
ax.tick_params(which="major", length=20, width=3.4)
ax.tick_params(which="minor", length=11, width=3.0)
ax.grid(True, which="major", color="#bdbdbd", linewidth=1.5)
ax.grid(True, which="minor", color="#d2d2d2", linewidth=1.1)
ax.set_axisbelow(True)
for s in ax.spines.values():
    s.set_linewidth(3.0)
    s.set_color("black")
    s.set_visible(True)

# ---------------- tick labels ----------------
lab_kw = dict(fontweight="bold", fontstyle="italic", color="black", clip_on=False)
ytr = blended_transform_factory(ax.transAxes, ax.transData)
for e in y_tick_exponents:
    ax.text(0, 10.0 ** e, "10", transform=offset_copy(ytr, fig=fig, x=-75, y=0, units="dots"),
            ha="right", va="top", fontsize=32, **lab_kw)
    ax.text(0, 10.0 ** e, str(e), transform=offset_copy(ytr, fig=fig, x=-76, y=5, units="dots"),
            ha="left", va="baseline", fontsize=27, **lab_kw)
xtr = blended_transform_factory(ax.transData, ax.transAxes)
for e in x_tick_exponents:
    ax.text(10.0 ** e, 0, "10", transform=offset_copy(xtr, fig=fig, x=-1, y=-46, units="dots"),
            ha="right", va="top", fontsize=33, **lab_kw)
    ax.text(10.0 ** e, 0, str(e), transform=offset_copy(xtr, fig=fig, x=4, y=-49, units="dots"),
            ha="left", va="baseline", fontsize=26, **lab_kw)

# ---------------- axis labels ----------------
fig.text(919 / W, 16 / H, "Frequency [Hz]", ha="center", va="baseline", fontsize=34,
         fontweight="bold", fontstyle="italic")
yl = fig.text(85 / W, 270 / H, "Displacement noise [m/Hz", rotation=90, rotation_mode="anchor",
              ha="left", va="baseline", fontsize=34, fontweight="bold", fontstyle="italic")
fig.canvas.draw()
r = fig.canvas.get_renderer()
bb = yl.get_window_extent(r)
sup = fig.text(70 / W, (bb.y1 + 1) / H, "1/2", rotation=90, rotation_mode="anchor",
               ha="left", va="baseline", fontsize=27, fontweight="bold", fontstyle="italic")
bb2 = sup.get_window_extent(r)
fig.text(83 / W, (bb2.y1 + 2) / H, "]", rotation=90, rotation_mode="anchor",
         ha="left", va="baseline", fontsize=28, fontweight="bold", fontstyle="italic")

# ---------------- legend ----------------
frame = Rectangle(((687 - AX_L) / (AX_R - AX_L), (AX_B - 351) / (AX_B - AX_T)),
                  (1333 - 687) / (AX_R - AX_L), (351 - 116) / (AX_B - AX_T),
                  transform=ax.transAxes, facecolor="white", edgecolor="black", linewidth=6,
                  joinstyle="bevel", zorder=5, clip_on=False)
ax.add_patch(frame)
handles = [Line2D([], [], color=series_colors[0], linewidth=6, solid_capstyle="round"),
           Line2D([], [], color=series_colors[1], linewidth=6, solid_capstyle="round"),
           Line2D([], [], color=series_colors[2], linewidth=8, solid_capstyle="butt")]
leg = ax.legend(handles, series_labels, loc="upper left",
                bbox_to_anchor=((731 - AX_L) / (AX_R - AX_L), (AX_B - 145) / (AX_B - AX_T)),
                frameon=False, borderpad=0, borderaxespad=0, handlelength=2.03, handletextpad=0.44,
                labelspacing=0.245, prop={"family": "Liberation Sans", "weight": "bold", "size": 41},
                labelcolor=series_colors)
leg.set_zorder(6)

fig.savefig("out.png", dpi=100, facecolor="white")
